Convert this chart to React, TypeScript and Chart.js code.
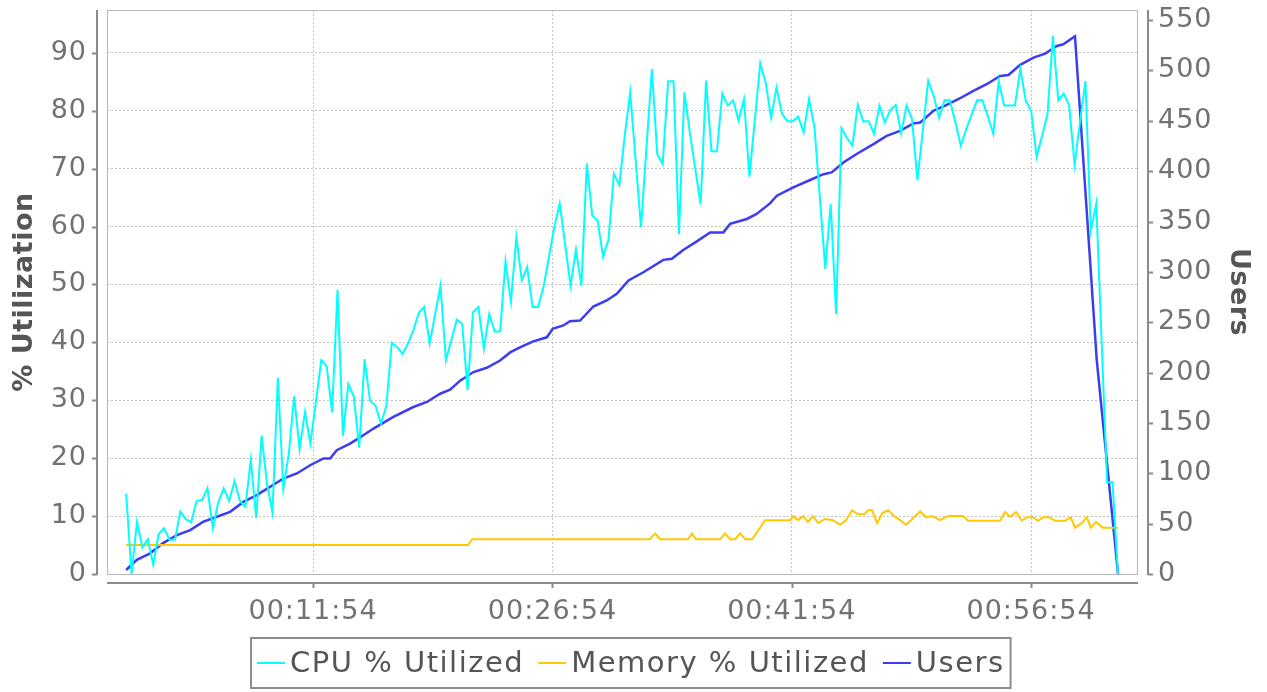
import React, { useEffect, useRef } from "react";
import { Chart, registerables } from "chart.js";

Chart.register(...registerables);

// ---- data (time in seconds from test start) ----
const X_TICKS = [714, 1614, 2514, 3414];
const LEFT_TICKS = [0, 10, 20, 30, 40, 50, 60, 70, 80, 90];
const RIGHT_TICKS = [0, 50, 100, 150, 200, 250, 300, 350, 400, 450, 500, 550];

const CPU_START = 11;
const CPU_STEP = 20.38;
const cpuValues = [
  13.9, 0, 9, 4.6, 6, 1.6, 6.9, 7.9, 5.9, 5.9, 10.8, 9.5, 8.9, 12.6, 12.8, 14.8, 7.9, 12.4, 14.8, 12.6,
  16, 12.6, 11.6, 19.7, 9.7, 23.9, 15.5, 10.6, 33.9, 14.7, 20.7, 30.7, 21.6, 28, 22.5, 29.6, 36.9, 35.9,
  27.9, 49.1, 23.9, 32.8, 30.7, 21.8, 37.1,
  29.9, 29.1, 26, 28.9, 39.9, 39.2, 38, 39.8, 42.1, 45.1, 46.1, 39.8, 44.8, 49.8, 36.9, 40.4, 43.9, 43.2,
  31.8, 45.2, 46.1, 38.9, 44.9, 41.9, 41.9, 54, 47, 58.2, 50.7, 53, 46.1, 46.1, 49.5, 54.7, 59.9, 64, 56.9,
  49.8, 56, 49.8, 70.9, 61.9, 61, 54.8, 57.7, 69.1, 67.2,
  75.7, 83.2, 71.5, 59.9, 73.5, 87.2, 72.5, 70.8, 85.1, 85.1, 58.7, 83.2, 76.3, 70, 63.8, 85.2, 73, 73, 83,
  80.9, 81.8, 78.3, 82, 68.6, 78.4, 88.2, 84.9, 78.8, 84, 79.5, 78.2, 78.2, 79, 76.3, 82, 77.2, 65, 52.7,
  63.9, 44.9, 77, 75.3, 74, 81, 78.2, 78.2,
  76, 80.9, 78, 80.1, 81, 76.1, 80.9, 78.6, 68, 76.6, 85.2, 82.6, 78.8, 81.8, 81.8, 78, 74, 76.8, 79.3,
  81.8, 81.8, 79, 76, 85.1, 80.9, 80.9, 80.9, 87.2, 81.7, 79.9, 72, 75.7, 79.4, 92.9, 81.8, 83, 80.9, 70.7,
  78, 85.1, 59.3, 64, 40, 15.9, 15.9, 0,
];

const userTimes = [
  11, 51, 101, 150, 202, 252, 300, 352, 402, 452, 502, 552, 602, 653, 703, 753, 778, 803, 853, 903, 941,
  1016, 1091, 1142, 1192, 1229, 1267, 1317, 1367, 1417, 1455, 1492, 1542, 1593, 1615, 1655, 1680, 1718,
  1768, 1818, 1856, 1900, 1956, 2031, 2063, 2106, 2157, 2207, 2257, 2282, 2345, 2382, 2432, 2458, 2520,
  2583, 2633, 2664, 2708, 2758, 2821, 2871, 2921, 2971, 2997, 3047, 3097, 3147, 3197, 3247, 3297, 3329,
  3373, 3423, 3467, 3511, 3535, 3579, 3661, 3741,
];
const userValues = [
  4, 14, 20.5, 30.7, 38.7, 43.6, 51.8, 56.8, 61.7, 71.6, 78.3, 86.5, 94.8, 99.8, 108, 114.7, 114.7, 122.9,
  129.5, 137.8, 144.4, 156, 165.8, 170.8, 179, 183, 192, 200.5, 204.8, 212, 220, 225, 231, 235, 243.5,
  246.8, 251, 251.7, 265.6, 271.6, 278.2, 291.4, 299.6, 311.9, 313, 321.8, 330.3, 339.2, 339.2, 347.6,
  352.5, 357.5, 368, 375.6, 383.8, 391.2, 397, 398.7, 408.6, 417, 426.8, 435, 440, 447.3, 448.3, 460,
  465.8, 472.4, 479.7, 486.3, 494.5, 495.5, 505.5, 512.7, 516.7, 524.3, 526, 534, 212, 0,
];

const memTimes = [
  11, 1297, 1312, 1981, 2000, 2019, 2124, 2139, 2154, 2244, 2263, 2282, 2301, 2320, 2339, 2365, 2414,
  2508, 2519, 2538, 2557, 2575, 2594, 2613, 2639, 2669, 2696, 2718, 2741, 2763, 2786, 2801, 2816, 2835,
  2854, 2876, 2899, 2921, 2944, 2967, 2997, 3019, 3042, 3072, 3102, 3158, 3177, 3297, 3316, 3335, 3358,
  3379, 3399, 3422, 3440, 3459, 3482, 3504, 3542, 3563, 3579, 3605, 3623, 3638, 3658, 3684, 3741,
];
const memValues = [
  5, 5, 6, 6, 7, 6, 6, 7, 6, 6, 7, 6, 6, 7, 6, 6, 9.3, 9.3, 10, 9.3, 10, 9, 10, 8.8, 9.5, 9.3, 8.5, 9.3,
  11, 10.3, 10.3, 11, 11, 8.8, 10.5, 11, 10, 9.3, 8.5, 9.5, 10.8, 9.8, 10, 9.3, 10, 10, 9.2, 9.2, 10.7,
  9.9, 10.7, 9.2, 9.8, 9.8, 9.2, 9.8, 9.8, 9.2, 9.2, 9.8, 8, 8.8, 9.8, 8, 9, 8, 8,
];

const SERIES_NAMES = ["CPU % Utilized", "Memory % Utilized", "Users"];
const SERIES_COLORS = ["#00FFFF", "#FFC800", "#3C3CF2"];
const LEFT_TITLE = "% Utilization";
const RIGHT_TITLE = "Users";

const FONT = "'DejaVu Sans', Verdana, sans-serif";
const TICK_COLOR = "#727272";
const AXIS_COLOR = "#8a8a8a";
const TITLE_COLOR = "#555555";

function fmtTime(v: number): string {
  const s = Math.round(v);
  const h = Math.floor(s / 3600);
  const m = Math.floor((s % 3600) / 60);
  const sec = s % 60;
  const p = (n: number) => String(n).padStart(2, "0");
  return `${p(h)}:${p(m)}:${p(sec)}`;
}

const spacingPlugin = {
  id: "spacing",
  beforeDraw(chart: any) {
    chart.ctx.letterSpacing = "1px";
  },
};

const decorPlugin = {
  id: "decor",
  afterDraw(chart: any) {
    const { ctx, chartArea } = chart;
    const { left, right, top, bottom } = chartArea;
    const yL = chart.scales.y;
    const yR = chart.scales.y1;
    const xs = chart.scales.x;
    ctx.save();
    // plot outline
    ctx.strokeStyle = "#b8b8b8";
    ctx.lineWidth = 1;
    ctx.strokeRect(left + 0.5, top + 0.5, right - left - 1, bottom - top);

    ctx.strokeStyle = AXIS_COLOR;
    ctx.lineWidth = 2;
    // left axis
    const ax = left - 10;
    ctx.beginPath();
    ctx.moveTo(ax, top);
    ctx.lineTo(ax, bottom + 1);
    LEFT_TICKS.forEach((v) => {
      const py = Math.round(yL.getPixelForValue(v)) + 0.5;
      ctx.moveTo(ax, py);
      ctx.lineTo(ax - 5, py);
    });
    ctx.stroke();
    // right axis
    const rx = right + 10;
    ctx.beginPath();
    ctx.moveTo(rx, top);
    ctx.lineTo(rx, bottom + 1);
    RIGHT_TICKS.forEach((v) => {
      const py = Math.round(yR.getPixelForValue(v)) + 0.5;
      ctx.moveTo(rx, py);
      ctx.lineTo(rx + 5, py);
    });
    ctx.stroke();
    // bottom axis
    const by = bottom + 9;
    ctx.beginPath();
    ctx.moveTo(left, by);
    ctx.lineTo(right, by);
    X_TICKS.forEach((v) => {
      const px = Math.round(xs.getPixelForValue(v)) + 0.5;
      ctx.moveTo(px, by);
      ctx.lineTo(px, by + 5);
    });
    ctx.stroke();

    // axis titles
    ctx.letterSpacing = "0.5px";
    ctx.fillStyle = TITLE_COLOR;
    ctx.font = `bold 27px ${FONT}`;
    ctx.textAlign = "center";
    ctx.textBaseline = "middle";
    const cy = (top + bottom) / 2;
    ctx.save();
    ctx.translate(25, cy);
    ctx.rotate(-Math.PI / 2);
    ctx.fillText(LEFT_TITLE, 0, 0);
    ctx.restore();
    ctx.save();
    ctx.translate(1238, cy);
    ctx.rotate(Math.PI / 2);
    ctx.fillText(RIGHT_TITLE, 0, 0);
    ctx.restore();

    // legend
    ctx.letterSpacing = "1.5px";
    ctx.font = `29px ${FONT}`;
    const lineLen = 28;
    const gapAfterLine = 5;
    const gapItems = 14;
    const pad = 6;
    const widths = SERIES_NAMES.map((n) => ctx.measureText(n).width);
    let total = pad * 2;
    widths.forEach((w, i) => {
      total += lineLen + gapAfterLine + w + (i < widths.length - 1 ? gapItems : 0);
    });
    const boxL = Math.round(631 - total / 2);
    const boxT = 638;
    const boxH = 50;
    ctx.strokeStyle = "#8c8c8c";
    ctx.lineWidth = 2;
    ctx.strokeRect(boxL, boxT, total, boxH);
    let x = boxL + pad;
    const ly = boxT + boxH / 2;
    ctx.textAlign = "left";
    ctx.textBaseline = "middle";
    SERIES_NAMES.forEach((n, i) => {
      ctx.strokeStyle = SERIES_COLORS[i];
      ctx.lineWidth = 2;
      ctx.beginPath();
      ctx.moveTo(x, ly);
      ctx.lineTo(x + lineLen, ly);
      ctx.stroke();
      x += lineLen + gapAfterLine;
      ctx.fillStyle = TITLE_COLOR;
      ctx.fillText(n, x, ly + 1);
      x += widths[i] + gapItems;
    });
    ctx.restore();
  },
};

const zeroPad = (s: any) => {
  s.paddingTop = 0;
  s.paddingBottom = 0;
  s.paddingLeft = 0;
  s.paddingRight = 0;
};

export default function App() {
  const ref = useRef<HTMLCanvasElement | null>(null);
  useEffect(() => {
    document.body.style.margin = "0";
    const canvas = ref.current!;
    const chart = new Chart(canvas, {
      type: "line",
      data: {
        datasets: [
          {
            label: SERIES_NAMES[0],
            data: cpuValues.map((v, i) => ({ x: CPU_START + i * CPU_STEP, y: v })),
            borderColor: SERIES_COLORS[0],
            borderWidth: 2,
            pointRadius: 0,
            tension: 0,
            yAxisID: "y",
          },
          {
            label: SERIES_NAMES[1],
            data: memTimes.map((t, i) => ({ x: t, y: memValues[i] })),
            borderColor: SERIES_COLORS[1],
            borderWidth: 2,
            pointRadius: 0,
            tension: 0,
            yAxisID: "y",
          },
          {
            label: SERIES_NAMES[2],
            data: userTimes.map((t, i) => ({ x: t, y: userValues[i] })),
            borderColor: SERIES_COLORS[2],
            borderWidth: 2.5,
            pointRadius: 0,
            tension: 0,
            yAxisID: "y1",
          },
        ],
      },
      options: {
        animation: false,
        responsive: false,
        maintainAspectRatio: false,
        layout: { padding: { top: 10, left: 0, right: 0, bottom: 0 } },
        plugins: { legend: { display: false }, tooltip: { enabled: false } },
        scales: {
          x: {
            type: "linear",
            min: -61,
            max: 3816,
            afterBuildTicks: (s: any) => {
              s.ticks = X_TICKS.map((v) => ({ value: v }));
            },
            afterFit: (s: any) => {
              s.height = 118;
              zeroPad(s);
            },
            ticks: {
              callback: (v: any) => fmtTime(Number(v)),
              font: { family: FONT, size: 27 },
              color: TICK_COLOR,
              padding: 22,
              maxRotation: 0,
              autoSkip: false,
            },
            grid: { color: "#c4c4c4", lineWidth: 1, drawTicks: false },
            border: { display: false, dash: [2, 2] },
          },
          y: {
            position: "left",
            min: 0,
            max: 97.4,
            afterBuildTicks: (s: any) => {
              s.ticks = LEFT_TICKS.map((v) => ({ value: v }));
            },
            afterFit: (s: any) => {
              s.width = 107;
              zeroPad(s);
            },
            ticks: {
              font: { family: FONT, size: 27 },
              color: TICK_COLOR,
              padding: 20,
            },
            grid: { color: "#c4c4c4", lineWidth: 1, drawTicks: false },
            border: { display: false, dash: [2, 2] },
          },
          y1: {
            position: "right",
            min: 0,
            max: 560,
            afterBuildTicks: (s: any) => {
              s.ticks = RIGHT_TICKS.map((v) => ({ value: v }));
            },
            afterFit: (s: any) => {
              s.width = 129;
              zeroPad(s);
            },
            ticks: {
              font: { family: FONT, size: 27 },
              color: TICK_COLOR,
              padding: 20,
            },
            grid: { display: false, drawTicks: false },
            border: { display: false },
          },
        },
      },
      plugins: [spacingPlugin, decorPlugin],
    });
    return () => chart.destroy();
  }, []);
  return (
    <div style={{ width: 1267, height: 692, background: "#fff" }}>
      <canvas ref={ref} width={1267} height={692} style={{ display: "block" }} />
    </div>
  );
}
